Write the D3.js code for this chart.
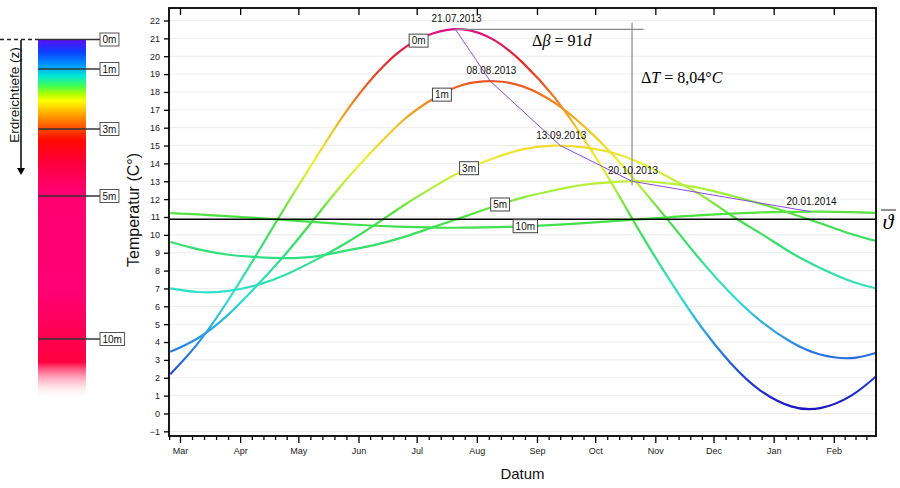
<!DOCTYPE html>
<html>
<head>
<meta charset="utf-8">
<script src="https://cdn.jsdelivr.net/npm/d3@7"></script>
<style>
body { margin: 0; background: #fff; }
text { font-family: "Liberation Sans", Arial, sans-serif; }
</style>
</head>
<body>
<svg id="chart" width="900" height="488"></svg>
<script>
// sample dates (about every 15 days)
var dates = ["2013-02-24", "2013-03-10", "2013-03-25", "2013-04-10", "2013-04-25", "2013-05-10", "2013-05-25",
    "2013-06-10", "2013-06-25", "2013-07-10", "2013-07-25", "2013-08-10", "2013-08-25", "2013-09-10",
    "2013-09-25", "2013-10-10", "2013-10-25", "2013-11-10", "2013-11-25", "2013-12-10", "2013-12-25",
    "2014-01-10", "2014-01-25", "2014-02-10", "2014-02-23"];

// temperature per depth (°C)
var t0m = [2.2, 3.9, 6.2, 9.0, 11.7, 14.3, 16.8, 19.0, 20.5, 21.3, 21.5, 20.9, 19.6, 17.7, 15.4, 12.8, 10.0, 7.2, 4.8, 2.8, 1.3, 0.4, 0.3, 1.0, 2.1];
var t1m = [3.45, 4.2, 5.45, 7.2, 9.0, 11.0, 13.0, 14.9, 16.5, 17.65, 18.4, 18.6, 18.3, 17.4, 16.1, 14.5, 12.6, 10.5, 8.5, 6.7, 5.2, 4.0, 3.3, 3.1, 3.4];
var t3m = [7.0, 6.8, 6.85, 7.2, 7.8, 8.6, 9.5, 10.6, 11.7, 12.7, 13.6, 14.3, 14.8, 15.0, 14.9, 14.6, 14.0, 13.1, 12.2, 11.1, 10.1, 9.0, 8.15, 7.4, 7.0];
var t5m = [9.6, 9.2, 8.9, 8.75, 8.7, 8.8, 9.1, 9.45, 9.9, 10.45, 11.0, 11.6, 12.1, 12.5, 12.8, 12.95, 13.0, 12.85, 12.6, 12.2, 11.75, 11.2, 10.65, 10.05, 9.65];
var t10m = [11.22, 11.15, 11.05, 10.94, 10.82, 10.71, 10.6, 10.51, 10.45, 10.41, 10.4, 10.43, 10.48, 10.56, 10.66, 10.77, 10.88, 11.0, 11.11, 11.19, 11.26, 11.29, 11.3, 11.27, 11.23];

var depthNames = ["0m", "1m", "3m", "5m", "10m"];
var labelDates = ["2013-07-02", "2013-07-14", "2013-07-28", "2013-08-13", "2013-08-26"];

// maxima per depth
var peakDates = ["2013-07-21", "2013-08-08", "2013-09-13", "2013-10-20", "2014-01-20"];
var peakTemps = [21.5, 18.6, 15.0, 13.0, 11.3];

var meanTemp = 10.87;
var yTicks = d3.range(-1, 23);

// legend depths
var legendDepths = [0, 1, 3, 5, 10];

// colour map temperature -> colour
var tempStops = [0, 2, 4, 6.5, 9, 11, 12.5, 14, 16, 17.5, 18.7, 20, 21.5, 22];
var tempColors = ["#1a10c0", "#2040d6", "#2a90e6", "#2fe0d6", "#2fe07a", "#46e040", "#a8f038", "#eef034", "#f0c424", "#f08020", "#ea5020", "#e42030", "#de108a", "#d8109a"];

// colours of depth bar (top -> bottom)
var barStopY = [40, 52, 64, 76, 86, 94, 101, 114, 126, 140, 160, 190, 290, 330, 362, 400];
var barStopColor = ["#5a10ff", "#0a40ff", "#0090ff", "#00e8d8", "#40ff50", "#b0ff00", "#ffff00", "#ffa800", "#ff5a00", "#ff0a00", "#ff0035", "#ff0070", "#ff0075", "#ff0055", "#ff0040", "#ffffff"];

var parse = d3.timeParse("%Y-%m-%d");
var fmt = d3.timeFormat("%d.%m.%Y");

var svg = d3.select("#chart");
var defs = svg.append("defs");

var pLeft = 169, pRight = 876, pTop = 8, pBottom = 436;

var x = d3.scaleTime()
    .domain([new Date(2013, 1, 23, 8), new Date(2014, 1, 22, 18)])
    .range([pLeft, pRight]);
var y = d3.scaleLinear().domain([-1.26, 22.7]).range([pBottom, pTop]);

//gradient for the curves: colour only depends on temperature
var tg = defs.append("linearGradient").attr("id", "tempGrad")
    .attr("gradientUnits", "userSpaceOnUse")
    .attr("x1", 0).attr("x2", 0)
    .attr("y1", y(tempStops[0])).attr("y2", y(tempStops[tempStops.length - 1]));
tempStops.forEach(function (t, i) {
    tg.append("stop")
        .attr("offset", (t - tempStops[0]) / (tempStops[tempStops.length - 1] - tempStops[0]))
        .attr("stop-color", tempColors[i]);
});

defs.append("clipPath").attr("id", "plotClip").append("rect")
    .attr("x", pLeft).attr("y", pTop).attr("width", pRight - pLeft).attr("height", pBottom - pTop);

//grid
svg.append("g").selectAll("line").data(yTicks).enter().append("line")
    .attr("x1", pLeft).attr("x2", pRight)
    .attr("y1", function (d) { return y(d); }).attr("y2", function (d) { return y(d); })
    .attr("stroke", "#ececec").attr("stroke-width", 1);

var series = [t0m, t1m, t3m, t5m, t10m].map(function (vals, i) {
    return {
        name: depthNames[i],
        labelDate: parse(labelDates[i]),
        values: vals.map(function (v, j) { return { date: parse(dates[j]), t: v }; })
    };
});

var line = d3.line()
    .x(function (d) { return x(d.date); })
    .y(function (d) { return y(d.t); })
    .curve(d3.curveNatural);

var plot = svg.append("g").attr("clip-path", "url(#plotClip)");

plot.selectAll(".curve").data(series).enter().append("path")
    .attr("class", "curve")
    .attr("d", function (d) { return line(d.values); })
    .attr("fill", "none")
    .attr("stroke", "url(#tempGrad)")
    .attr("stroke-width", 2.2);

//mean line
plot.append("line")
    .attr("x1", pLeft).attr("x2", pRight)
    .attr("y1", y(meanTemp)).attr("y2", y(meanTemp))
    .attr("stroke", "#000").attr("stroke-width", 1.6);

//line through maxima
var peaks = peakDates.map(function (d, i) { return { date: parse(d), t: peakTemps[i] }; });
plot.append("path")
    .attr("d", d3.line().x(function (d) { return x(d.date); }).y(function (d) { return y(d.t); })(peaks))
    .attr("fill", "none").attr("stroke", "#8a4bdc").attr("stroke-width", 1);

//delta lines
var p0 = peaks[0], p3 = peaks[3];
svg.append("line")
    .attr("x1", x(p0.date)).attr("x2", x(d3.timeDay.offset(p3.date, 6)))
    .attr("y1", y(p0.t)).attr("y2", y(p0.t))
    .attr("stroke", "#888").attr("stroke-width", 1.2);
svg.append("line")
    .attr("x1", x(p3.date)).attr("x2", x(p3.date))
    .attr("y1", y(p0.t + 0.37)).attr("y2", y(p3.t - 0.22))
    .attr("stroke", "#888").attr("stroke-width", 1.2);

var dB = svg.append("text")
    .attr("x", (x(p0.date) + x(p3.date)) / 2 + 18).attr("y", y(p0.t) + 17)
    .attr("text-anchor", "middle")
    .style("font-family", "'Liberation Serif', 'Times New Roman', serif")
    .attr("font-size", 16);
dB.append("tspan").text("\u0394");
dB.append("tspan").attr("font-style", "italic").text("\u03b2");
dB.append("tspan").text(" = 91");
dB.append("tspan").attr("font-style", "italic").text("d");

var dT = svg.append("text")
    .attr("x", x(p3.date) + 9).attr("y", 83)
    .style("font-family", "'Liberation Serif', 'Times New Roman', serif")
    .attr("font-size", 16);
dT.append("tspan").text("\u0394");
dT.append("tspan").attr("font-style", "italic").text("T");
dT.append("tspan").text(" = 8,04\u00b0");
dT.append("tspan").attr("font-style", "italic").text("C");

//date labels at the maxima
svg.selectAll(".peakLabel").data(peaks).enter().append("text")
    .attr("class", "peakLabel")
    .attr("x", function (d) { return x(d.date) + 1; })
    .attr("y", function (d) { return y(d.t) - 7; })
    .attr("text-anchor", "middle")
    .attr("font-size", 10)
    .attr("fill", "#111")
    .text(function (d) { return fmt(d.date); });

//depth labels on the curves
function valueAt(vals, date) {
    for (var i = 1; i < vals.length; i++) {
        if (vals[i].date >= date) {
            var a = vals[i - 1], b = vals[i];
            var f = (date - a.date) / (b.date - a.date);
            return a.t + f * (b.t - a.t);
        }
    }
    return vals[vals.length - 1].t;
}

series.forEach(function (s) {
    var cx = x(s.labelDate), cy = y(valueAt(s.values, s.labelDate));
    var g = svg.append("g");
    var r = g.append("rect").attr("fill", "#fff").attr("stroke", "#444").attr("stroke-width", 1);
    var t = g.append("text").attr("x", cx).attr("y", cy + 3.5)
        .attr("text-anchor", "middle").attr("font-size", 10).attr("fill", "#111").text(s.name);
    var bb = t.node().getBBox();
    r.attr("x", bb.x - 2.5).attr("y", cy - 6.5).attr("width", bb.width + 5).attr("height", 13);
});

//frame
svg.append("rect")
    .attr("x", pLeft).attr("y", pTop).attr("width", pRight - pLeft).attr("height", pBottom - pTop)
    .attr("fill", "none").attr("stroke", "#000").attr("stroke-width", 1.8);

//axes
function styleAxis(g) {
    g.attr("font-family", "'Liberation Sans', Arial, sans-serif").attr("font-size", 9);
    g.select(".domain").remove();
    g.selectAll("line").attr("stroke", "#000").attr("stroke-width", 1.3);
    g.selectAll("text").attr("fill", "#222");
}

svg.append("g").attr("transform", "translate(" + pLeft + ",0)")
    .call(d3.axisLeft(y).tickValues(yTicks).tickSize(5).tickSizeOuter(0).tickPadding(4))
    .call(styleAxis);

var months = d3.timeMonth.range(new Date(2013, 2, 1), new Date(2014, 2, 1));
var minors = [];
d3.timeMonth.range(new Date(2013, 1, 1), new Date(2014, 2, 1)).forEach(function (m) {
    var len = d3.timeDay.count(m, d3.timeMonth.offset(m, 1));
    for (var k = 1; k < 5; k++) {
        var d = new Date(m.getTime() + k * len / 5 * 864e5);
        if (d >= x.domain()[0] && d <= x.domain()[1]) minors.push(d);
    }
});

svg.append("g").attr("transform", "translate(0," + pBottom + ")")
    .call(d3.axisBottom(x).tickValues(minors).tickSize(4).tickSizeOuter(0).tickFormat(""))
    .call(styleAxis);
svg.append("g").attr("transform", "translate(0," + pBottom + ")")
    .call(d3.axisBottom(x).tickValues(months).tickSize(7).tickSizeOuter(0).tickPadding(5)
        .tickFormat(d3.timeFormat("%b")))
    .call(styleAxis);
svg.append("g").attr("transform", "translate(0," + pTop + ")")
    .call(d3.axisTop(x).tickValues(months).tickSize(-7).tickSizeOuter(0).tickFormat(""))
    .call(styleAxis);

//axis titles
svg.append("text")
    .attr("transform", "translate(139,210) rotate(-90)")
    .attr("text-anchor", "middle").attr("font-size", 16).attr("fill", "#111")
    .text("Temperatur (C\u00b0)");
svg.append("text")
    .attr("x", (pLeft + pRight) / 2).attr("y", 479)
    .attr("text-anchor", "middle").attr("font-size", 15).attr("fill", "#111")
    .text("Datum");

//theta bar symbol
svg.append("text")
    .attr("x", 888).attr("y", 229)
    .attr("text-anchor", "middle")
    .style("font-family", "'Liberation Serif', 'Times New Roman', serif")
    .attr("font-style", "italic").attr("font-size", 22)
    .text("\u03d1");
svg.append("line").attr("x1", 881).attr("x2", 896).attr("y1", 210).attr("y2", 210)
    .attr("stroke", "#222").attr("stroke-width", 1);

//depth bar on the left
var depthY = d3.scaleLinear().domain(legendDepths).range([39.5, 69, 129, 196, 339]);
var barTop = 39.5, barBottom = 400;
var bg = defs.append("linearGradient").attr("id", "barGrad")
    .attr("x1", 0).attr("x2", 0).attr("y1", 0).attr("y2", 1);
barStopY.forEach(function (py, i) {
    bg.append("stop")
        .attr("offset", Math.max(0, (py - barTop) / (barBottom - barTop)))
        .attr("stop-color", barStopColor[i])
        .attr("stop-opacity", i === barStopY.length - 1 ? 0 : 1);
});
svg.append("rect").attr("x", 38).attr("y", barTop).attr("width", 48).attr("height", barBottom - barTop)
    .attr("fill", "url(#barGrad)");

svg.append("line").attr("x1", 0).attr("x2", 38).attr("y1", barTop).attr("y2", barTop)
    .attr("stroke", "#222").attr("stroke-width", 1.5).attr("stroke-dasharray", "4,3");

legendDepths.forEach(function (d, i) {
    var py = depthY(d);
    svg.append("line").attr("x1", 38).attr("x2", 100).attr("y1", py).attr("y2", py)
        .attr("stroke", "#333").attr("stroke-width", 1.3);
    var r = svg.append("rect").attr("fill", "#fff").attr("stroke", "#555").attr("stroke-width", 1);
    var t = svg.append("text").attr("x", 102.5).attr("y", py + 3.5)
        .attr("font-size", 10).attr("fill", "#111").text(depthNames[i]);
    var bb = t.node().getBBox();
    r.attr("x", 100).attr("y", py - 6.5).attr("width", bb.width + 5).attr("height", 13);
});

//arrow + title
svg.append("line").attr("x1", 21).attr("x2", 21).attr("y1", 40).attr("y2", 169)
    .attr("stroke", "#000").attr("stroke-width", 1.5);
svg.append("path").attr("d", "M17,168L25,168L21,175Z").attr("fill", "#000");
svg.append("text")
    .attr("transform", "translate(19,95) rotate(-90)")
    .attr("text-anchor", "middle").attr("font-size", 13.5).attr("fill", "#111")
    .text("Erdreichtiefe (z)");
</script>
</body>
</html>
